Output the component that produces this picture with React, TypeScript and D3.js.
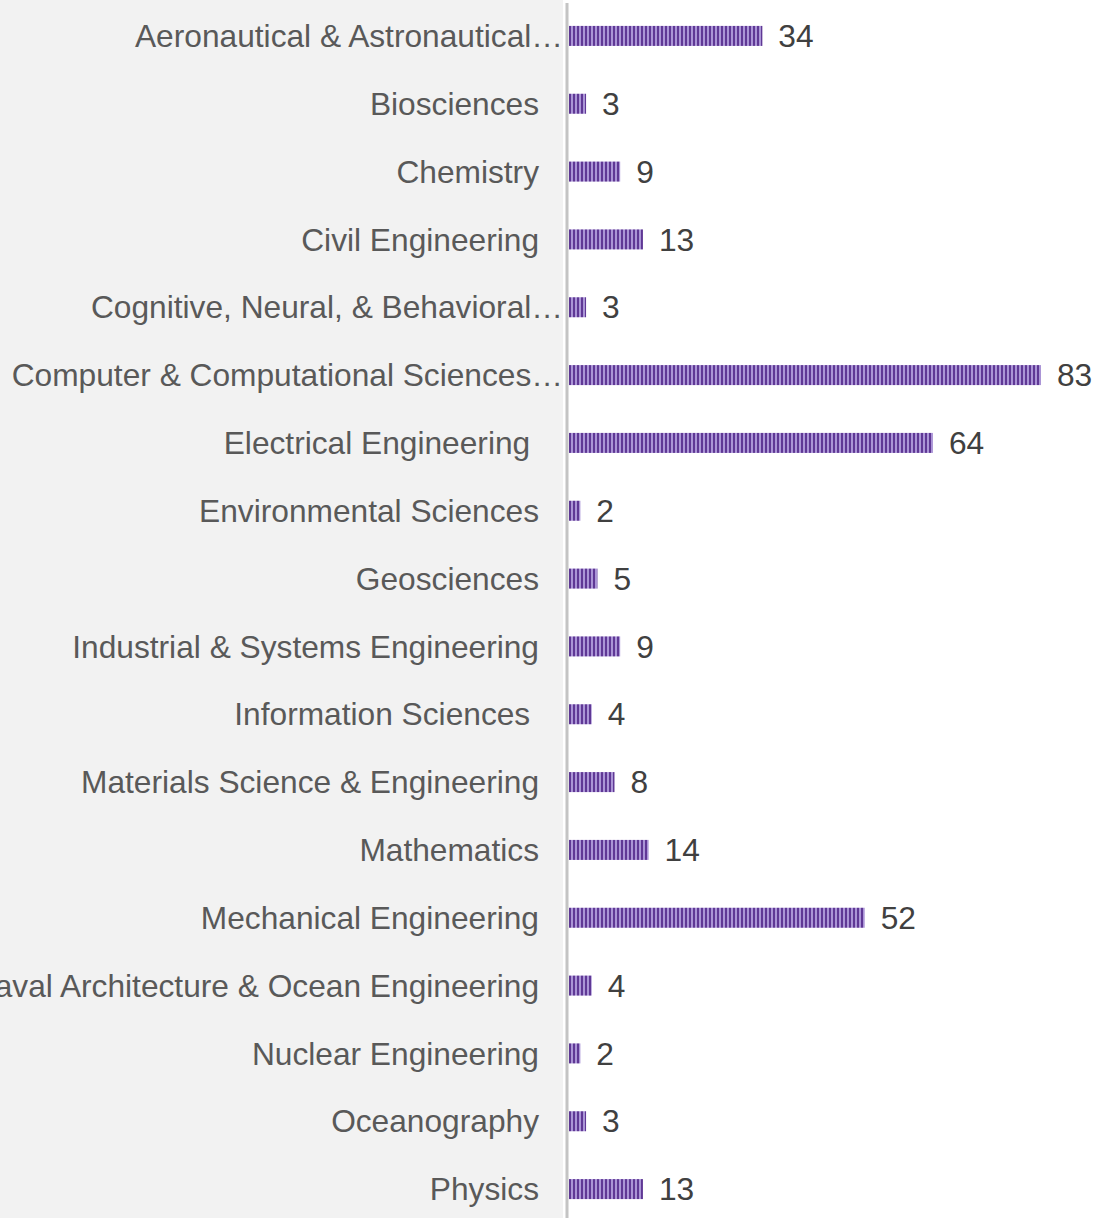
import React from "react";
import * as d3 from "d3";

const categories = [
  "Aeronautical & Astronautical…",
  "Biosciences",
  "Chemistry",
  "Civil Engineering",
  "Cognitive, Neural, & Behavioral…",
  "Computer & Computational Sciences…",
  "Electrical Engineering ",
  "Environmental Sciences",
  "Geosciences",
  "Industrial & Systems Engineering",
  "Information Sciences ",
  "Materials Science & Engineering",
  "Mathematics",
  "Mechanical Engineering",
  "Naval Architecture & Ocean Engineering",
  "Nuclear Engineering",
  "Oceanography",
  "Physics",
];

const values = [34, 3, 9, 13, 3, 83, 64, 2, 5, 9, 4, 8, 14, 52, 4, 2, 3, 13];

const W = 1094;
const H = 1218;

export default function App() {
  const x = d3.scaleLinear().domain([0, 83]).range([569, 1041]);
  const y = d3
    .scaleBand<string>()
    .domain(categories)
    .range([2, 1223])
    .paddingInner(0.705)
    .paddingOuter(0.3525);
  const bh = y.bandwidth();
  const font = "'Liberation Sans', Arial, sans-serif";

  return (
    <svg
      width={W}
      height={H}
      style={{ position: "absolute", left: 0, top: 0 }}
      fontFamily={font}
    >
      <defs>
        <pattern id="stripes" patternUnits="userSpaceOnUse" width={4} height={8} x={569}>
          <rect x={0} y={0} width={4} height={8} fill="#ab95d6" />
          <rect x={0} y={0} width={2} height={8} fill="#5f3895" />
        </pattern>
      </defs>
      <rect x={0} y={0} width={W} height={H} fill="#ffffff" />
      <rect x={0} y={0} width={563} height={H} fill="#f2f2f2" />
      <line x1={567} x2={567} y1={3} y2={H} stroke="#c4c4c4" strokeWidth={3} />
      {categories.map((c, i) => {
        const cy = (y(c) ?? 0) + bh / 2;
        const truncated = c.endsWith("…");
        return (
          <g key={c}>
            <text
              x={truncated ? 563 : 539}
              y={cy}
              dy="0.35em"
              textAnchor="end"
              fontSize={31.7}
              fill="#595959"
              style={{ whiteSpace: "pre" }}
            >
              {c}
            </text>
            <rect
              x={x(0)}
              y={y(c)}
              width={x(values[i]) - x(0)}
              height={bh}
              fill="url(#stripes)"
            />
            <text
              x={x(values[i]) + 16}
              y={cy}
              dy="0.35em"
              fontSize={31.7}
              fill="#404040"
            >
              {values[i]}
            </text>
          </g>
        );
      })}
    </svg>
  );
}
